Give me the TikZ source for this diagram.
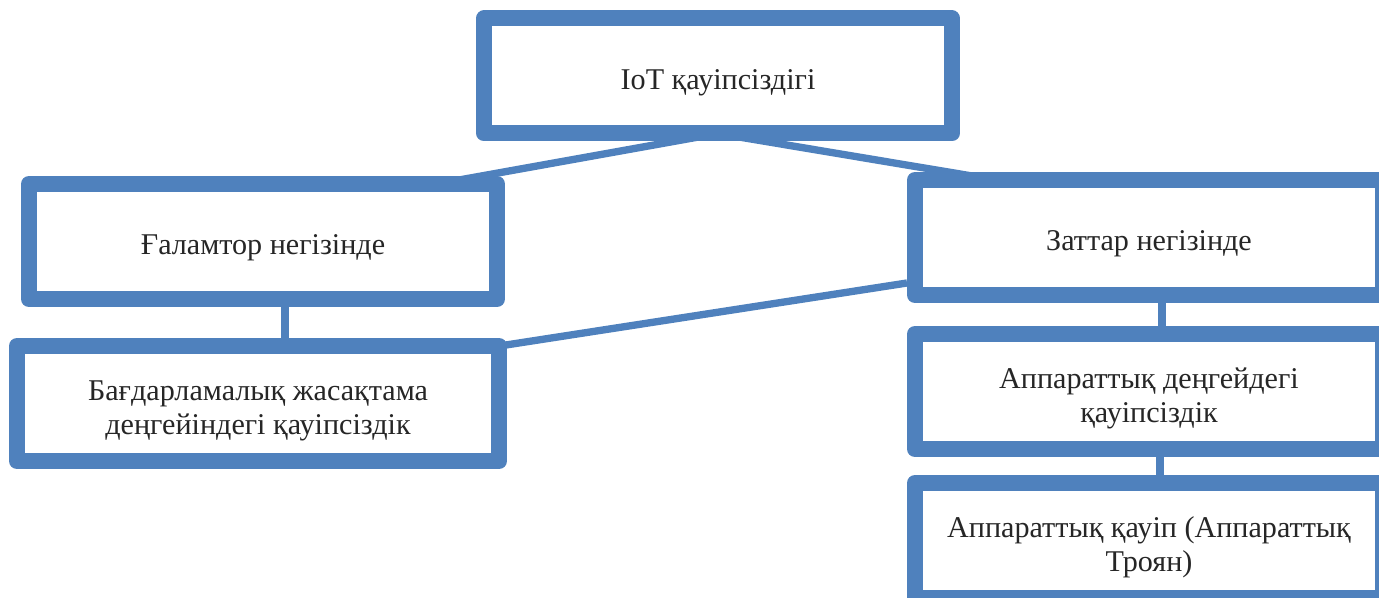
\documentclass[tikz,border=0pt]{standalone}
\usepackage{fontspec}
\setmainfont{Liberation Serif}
\usetikzlibrary{positioning,calc}
\definecolor{boxblue}{RGB}{79,129,189}
\begin{document}
\begin{tikzpicture}[x=0.75pt,y=-0.75pt,
	box/.style={rectangle,draw=boxblue,fill=white,line width=12pt,line join=round,outer sep=0pt,
		minimum width=351pt,minimum height=86.25pt,align=center,text=black!85,
		font=\fontsize{22.6}{26}\selectfont,execute at begin node={\rule{0pt}{25pt}}},
	twoline/.style={execute at begin node={\rule{0pt}{52pt}}},
	wide/.style={minimum width=361.5pt},
	link/.style={draw=boxblue,line width=5.5pt}]
			\useasboundingbox (0,0) rectangle (1379,598);

			\node[box]	at (718,76)											(top)	{IoT қауіпсіздігі};
			\node[box]	at (263,241.5)										(l0)	{Ғаламтор негізінде};
			\node[box,wide,twoline,node distance=35.25pt,below=of l0,xshift=-3.75pt]	(l1)	{Бағдарламалық жасақтама\\деңгейіндегі қауіпсіздік};

			\node[box]	at (1149,237.5)										(r0)	{Заттар негізінде};
			\node[box,twoline,node distance=29.25pt,below=of r0]			(r1)	{Аппараттық деңгейдегі\\қауіпсіздік};
			\node[box,twoline,node distance=25.5pt,below=of r1]				(r2)	{Аппараттық қауіп (Аппараттық\\Троян)};

			\draw[link] (top.south) -- ($(l0.north east)+(-38,-4)$);
			\draw[link] (top.south) -- ($(r0.north west)+(93,2)$);
			\draw[link] ($(l0.south)+(22,0)$) -- ($(l1.north)+(27,0)$);
			\draw[link] ($(l1.north east)+(-6,1)$) -- ($(r0.south west)+(-8,-12)$);
			\draw[link] ($(r0.south)+(13,0)$) -- ($(r1.north)+(13,0)$);
			\draw[link] ($(r1.south)+(11,0)$) -- ($(r2.north)+(11,0)$);
		\end{tikzpicture}
\end{document}
